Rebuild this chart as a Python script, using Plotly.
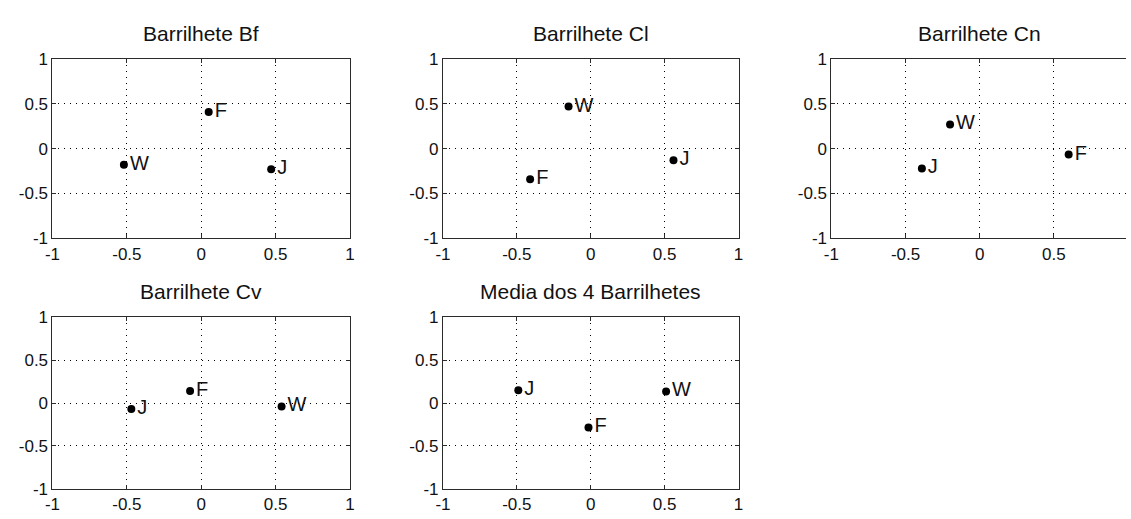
import plotly.graph_objects as go

# ---- data ----
titles = ["Barrilhete Bf", "Barrilhete Cl", "Barrilhete Cn", "Barrilhete Cv", "Media dos 4 Barrilhetes"]
point_labels = ["W", "F", "J"]

bf_x = [-0.52, 0.05, 0.47]
bf_y = [-0.18, 0.41, -0.23]

cl_x = [-0.15, -0.41, 0.56]
cl_y = [0.47, -0.34, -0.13]

cn_x = [-0.20, 0.60, -0.39]
cn_y = [0.27, -0.065, -0.22]

cv_x = [0.54, -0.075, -0.47]
cv_y = [-0.04, 0.14, -0.07]

media_x = [0.51, -0.015, -0.49]
media_y = [0.135, -0.285, 0.15]

tick_vals = [-1, -0.5, 0, 0.5, 1]
tick_text = ["-1", "-0.5", "0", "0.5", "1"]

series = [(bf_x, bf_y), (cl_x, cl_y), (cn_x, cn_y), (cv_x, cv_y), (media_x, media_y)]

# ---- layout geometry (pixels) ----
W, H = 1131, 519
cols = [(45, 346), (440, 739), (833, 1133)]
rows = [(52, 238), (320, 498)]
cells = [(0, 0), (0, 1), (0, 2), (1, 0), (1, 1)]

FONT = "Liberation Sans, Arial, sans-serif"
AX_COL = "#2b2b2b"
TXT_COL = "#111111"
GRID_DASH = "1px,5px"

fig = go.Figure()
annotations = []
for i, ((r, c), (xs, ys), title) in enumerate(zip(cells, series, titles)):
    n = "" if i == 0 else str(i + 1)
    x0, x1 = cols[c]
    y0, y1 = rows[r]
    xr = [-1, 1]
    if x1 > W:
        # panel runs past the right edge of the window
        xr = [-1, -1 + 2 * (W - x0) / (x1 - x0)]
        x1 = W
    xdom = [x0 / W, x1 / W]
    ydom = [1 - y1 / H, 1 - y0 / H]
    fig.add_trace(go.Scatter(
        x=xs, y=ys, text=point_labels, mode="markers+text",
        textposition="middle right",
        textfont=dict(family=FONT, size=20, color=TXT_COL),
        marker=dict(color="black", size=8),
        xaxis="x" + n, yaxis="y" + n, showlegend=False, cliponaxis=False,
    ))
    cut = xr[1] < 1
    fig.layout["xaxis" + n] = dict(
        domain=xdom, range=xr, anchor="y" + n,
        tickvals=tick_vals, ticktext=tick_text,
        showgrid=True, gridcolor="black", griddash=GRID_DASH, gridwidth=1,
        zeroline=False, showline=True, linecolor=AX_COL, linewidth=1,
        mirror="ticks", ticks="inside", ticklen=4, tickcolor=AX_COL,
        tickfont=dict(family=FONT, size=17, color=TXT_COL),
        ticklabelstandoff=0,
        fixedrange=True,
    )
    fig.layout["yaxis" + n] = dict(
        domain=ydom, range=[-1, 1], anchor="x" + n,
        tickvals=tick_vals, ticktext=tick_text,
        showgrid=True, gridcolor="black", griddash=GRID_DASH, gridwidth=1,
        zeroline=False, showline=True, linecolor=AX_COL, linewidth=1,
        mirror=(False if cut else "ticks"), ticks="inside", ticklen=4, tickcolor=AX_COL,
        tickfont=dict(family=FONT, size=17, color=TXT_COL),
        ticklabelstandoff=0,
        fixedrange=True,
    )
    annotations.append(dict(
        text=title, xref="paper", yref="paper",
        x=(cols[c][0] + cols[c][1]) / 2 / W, y=1 - y0 / H,
        xanchor="center", yanchor="bottom", yshift=12, showarrow=False,
        font=dict(family=FONT, size=21, color=TXT_COL),
    ))

fig.update_layout(
    width=W, height=H, margin=dict(l=0, r=0, t=0, b=0),
    paper_bgcolor="white", plot_bgcolor="white",
    annotations=annotations,
)
fig.write_html("out.html")
